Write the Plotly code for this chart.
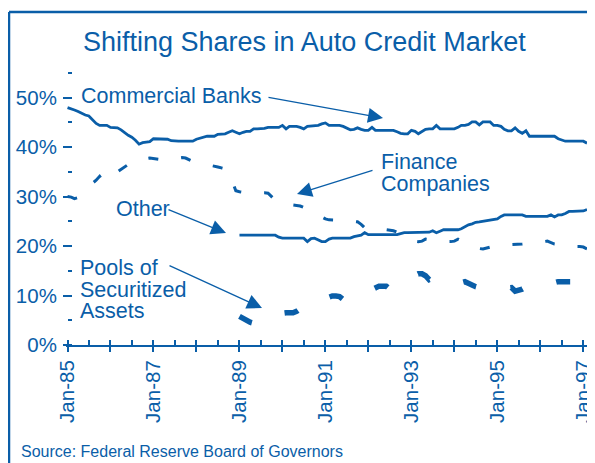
import pandas as pd
import plotly.graph_objects as go

BLUE = "#0A5EA8"
FONT = "Liberation Sans, Arial, Helvetica, sans-serif"

# ---- data (monthly, Jan-1985 onward), shares in percent ----
months_all = pd.date_range("1985-01-01", periods=146, freq="MS")

commercial_banks = [
    48.0, 47.8, 47.5, 47.2, 46.8, 46.5, 46.3, 45.6, 44.8, 44.4, 44.4, 44.4,
    44.0, 43.9, 43.9, 43.5, 42.9, 42.4, 42.0, 41.4, 40.6, 40.9, 41.0, 41.1,
    41.7, 41.7, 41.7, 41.7, 41.6, 41.3, 41.2, 41.2, 41.2, 41.2, 41.2, 41.2,
    41.6, 41.8, 42.1, 42.2, 42.2, 42.2, 42.6, 42.7, 42.7, 43.0, 43.3, 43.0,
    42.7, 43.0, 43.2, 43.2, 43.7, 43.7, 43.7, 43.8, 44.0, 44.0, 44.0, 44.0,
    44.4, 43.7, 44.2, 44.2, 44.2, 44.0, 43.7, 44.2, 44.3, 44.4, 44.4, 44.7,
    44.9, 44.4, 44.4, 44.4, 44.4, 44.2, 43.8, 43.5, 43.6, 43.9, 43.6, 43.4,
    43.4, 44.0, 43.4, 43.4, 43.4, 43.4, 43.4, 43.4, 43.1, 42.8, 42.7, 42.7,
    43.4, 43.2, 42.7, 43.2, 43.6, 43.7, 43.7, 44.4, 43.7, 43.7, 43.7, 43.7,
    43.7, 44.0, 44.4, 44.4, 44.6, 45.1, 45.1, 44.5, 45.1, 45.1, 45.1, 44.4,
    44.4, 44.2, 43.6, 43.3, 43.3, 43.9, 43.2, 42.8, 43.3, 42.2, 42.2, 42.2,
    42.2, 42.2, 42.2, 42.2, 42.2, 41.7, 41.5, 41.2, 41.2, 41.2, 41.2, 41.2,
    41.2, 40.8,
]

finance_companies = [
    30.0, 29.9, 29.6, 29.8, 30.6, 31.4, 32.1, 32.7, 33.3, 34.1, 33.1, 33.5,
    34.0, 34.5, 35.0, 35.4, 35.9, 36.4, 37.0, 37.2, 37.4, 37.6, 37.7, 37.8,
    37.7, 37.5, 37.4, 37.4, 37.5, 37.6, 37.7, 37.8, 37.9, 37.8, 37.4, 37.1,
    36.9, 36.7, 36.5, 36.4, 36.3, 36.2, 36.0, 35.8, 35.6, 35.0, 33.0, 31.2,
    31.0, 30.9, 30.7, 30.7, 30.7, 30.8, 30.8, 30.8, 30.7, 30.0, 29.2, 29.0,
    28.8, 28.6, 28.4, 28.3, 28.2, 28.1, 27.8, 27.4, 27.0, 26.6, 26.2, 25.8,
    25.5, 25.3, 25.3, 25.3, 25.3, 25.2, 25.1, 25.0, 25.0, 24.9, 24.4, 23.7,
    23.6, 23.5, 23.5, 23.4, 23.4, 23.3, 23.3, 23.1, 22.8, 22.4, 22.0, 21.6,
    21.3, 21.0, 20.9, 21.0, 21.4, 21.3, 21.2, 21.1, 21.0, 20.9, 20.9, 20.9,
    21.0, 21.4, 21.0, 20.6, 20.3, 20.0, 19.7, 19.5, 19.4, 19.6, 19.9, 20.0,
    20.1, 20.1, 20.2, 20.2, 20.3, 20.3, 20.4, 20.4, 20.5, 20.6, 20.7, 20.8,
    20.9, 21.0, 21.0, 20.7, 20.4, 20.3, 20.2, 20.1, 20.0, 20.0, 19.9, 19.9,
    19.8, 19.4,
]

# series beginning Jan-1989
other = [
    22.2, 22.2, 22.2, 22.2, 22.2, 22.2, 22.2, 22.2, 22.2, 22.2, 22.2, 21.8,
    21.6, 21.6, 21.6, 21.6, 21.6, 21.6, 21.6, 20.9, 21.5, 21.6, 21.3, 20.9,
    20.9, 21.4, 21.6, 21.6, 21.6, 21.6, 21.6, 21.6, 21.9, 22.1, 22.2, 22.7,
    22.3, 22.3, 22.3, 22.3, 22.3, 22.3, 22.3, 22.3, 22.3, 22.5, 22.7, 22.7,
    22.7, 22.7, 22.7, 22.7, 22.7, 22.8, 23.1, 22.7, 23.0, 23.3, 23.3, 23.3,
    23.3, 23.3, 23.5, 23.9, 24.3, 24.5, 24.8, 24.9, 25.0, 25.1, 25.3, 25.4,
    25.5, 26.0, 26.3, 26.3, 26.3, 26.3, 26.3, 26.3, 26.0, 26.0, 26.0, 26.0,
    26.0, 26.0, 26.0, 26.3, 25.9, 26.3, 26.3, 26.6, 27.0, 27.0, 27.0, 27.0,
    27.1, 27.4,
]

pools = [
    5.8, 5.3, 5.0, 4.6, 4.4, 4.5, 4.7, 5.0, 5.3, 5.6, 5.9, 6.2,
    6.4, 6.5, 6.5, 6.5, 6.8, 7.4, 7.8, 8.1, 8.4, 8.7, 9.0, 9.3,
    9.5, 9.7, 9.9, 9.9, 9.8, 9.2, 9.5, 9.8, 10.1, 10.4, 10.7, 10.9,
    11.1, 11.2, 11.7, 11.9, 11.9, 11.9, 11.3, 11.8, 12.2, 12.6, 13.0, 13.4,
    13.7, 14.1, 14.4, 14.4, 14.0, 13.2, 13.5, 13.5, 13.4, 13.3, 13.2, 13.0,
    12.9, 12.7, 12.6, 12.8, 12.4, 12.1, 11.8, 11.6, 11.5, 11.4, 11.3, 11.3,
    11.3, 11.4, 11.5, 11.6, 11.6, 10.9, 11.0, 11.3, 11.7, 11.9, 12.1, 12.2,
    12.3, 12.4, 12.4, 12.5, 12.6, 12.8, 12.8, 12.8, 12.8, 12.8,
]

year_ticks = pd.date_range("1985-01-01", "1997-01-01", freq="YS")
year_labels = ["Jan-85", "", "Jan-87", "", "Jan-89", "", "Jan-91", "",
               "Jan-93", "", "Jan-95", "", "Jan-97"]
y_ticks = [0, 10, 20, 30, 40, 50]
y_labels = ["0%", "10%", "20%", "30%", "40%", "50%"]

months_cb = months_all[:len(commercial_banks)]
months_fc = months_all[:len(finance_companies)]
months_ot = months_all[48:48 + len(other)]
months_pl = months_all[48:48 + len(pools)]

# ---- geometry: the page body adds an 8px offset, so the figure is 8px smaller ----
OFF = 8
W_FIG, H_FIG = 595 - OFF, 463 - OFF
PLOT_L, PLOT_T, PLOT_B = 66, 68, 345          # in window pixels
L, T = PLOT_L - OFF, PLOT_T - OFF
B = H_FIG - (PLOT_B - OFF)
R = 0
PW = W_FIG - L - R
PH = (PLOT_B - OFF) - T


def px_x(wx):
    return (wx - PLOT_L) / PW


def px_y(wy):
    return (PLOT_B - wy) / PH


fig = go.Figure()
fig.add_trace(go.Scatter(x=months_cb, y=commercial_banks, mode="lines",
                         line=dict(color=BLUE, width=2.8), name="Commercial Banks"))
fig.add_trace(go.Scatter(x=months_fc, y=finance_companies, mode="lines",
                         line=dict(color=BLUE, width=3, dash="10px,23px"),
                         name="Finance Companies"))
fig.add_trace(go.Scatter(x=months_ot, y=other, mode="lines",
                         line=dict(color=BLUE, width=2.8), name="Other"))
fig.add_trace(go.Scatter(x=months_pl, y=pools, mode="lines",
                         line=dict(color=BLUE, width=5.5, dash="14px,34.5px"),
                         name="Pools of Securitized Assets"))
# carrier for the overlay axis that draws the upward half of the x ticks
fig.add_trace(go.Scatter(x=[], y=[], xaxis="x2", showlegend=False, hoverinfo="skip"))

x_range = ["1984-12-19", "1997-04-10"]

fig.update_layout(
    width=W_FIG, height=H_FIG,
    margin=dict(l=L, r=R, t=T, b=B, pad=0),
    paper_bgcolor="white", plot_bgcolor="white",
    showlegend=False,
    font=dict(family=FONT, color=BLUE),
    xaxis=dict(
        type="date", range=x_range, domain=[0, 1],
        tickmode="array", tickvals=year_ticks, ticktext=year_labels,
        tickangle=-90, ticks="outside", ticklen=5, tickwidth=1.5, tickcolor=BLUE,
        tickfont=dict(size=20.5, color=BLUE, family=FONT),
        showline=True, linecolor=BLUE, linewidth=2,
        showgrid=False, zeroline=False, anchor="y",
    ),
    xaxis2=dict(
        type="date", range=x_range, overlaying="x", anchor="y",
        tickmode="linear", tick0="1985-01-01", dtick="M6",
        ticks="inside", ticklen=5, tickwidth=1.5, tickcolor=BLUE,
        showticklabels=False, showline=False, showgrid=False, zeroline=False,
    ),
    yaxis=dict(
        range=[0, 56], anchor="free", position=px_x(72),
        tickmode="array", tickvals=y_ticks, ticktext=y_labels,
        ticks="outside", ticklen=9, tickwidth=2, tickcolor=BLUE,
        ticklabelstandoff=2,
        minor=dict(dtick=5, ticks="outside", ticklen=4.5, tickwidth=1.5, tickcolor=BLUE),
        tickfont=dict(size=20.5, color=BLUE, family=FONT),
        showline=False, showgrid=False, zeroline=False,
    ),
)

# frame lines (top and left), running off the picture
fig.add_shape(type="line", xref="paper", yref="paper",
              x0=px_x(9), y0=px_y(12), x1=px_x(9), y1=px_y(480),
              line=dict(color=BLUE, width=2.5))
fig.add_shape(type="line", xref="paper", yref="paper",
              x0=px_x(9), y0=px_y(12), x1=px_x(610), y1=px_y(12),
              line=dict(color=BLUE, width=2.5))

# title
fig.add_annotation(text="Shifting Shares in Auto Credit Market", xref="paper", yref="paper",
                   x=px_x(304), y=px_y(42), xanchor="center", yanchor="middle",
                   showarrow=False, font=dict(size=27, color=BLUE, family=FONT))
# source
fig.add_annotation(text="Source: Federal Reserve Board of Governors", xref="paper", yref="paper",
                   x=px_x(19), y=px_y(451), xanchor="left", yanchor="middle",
                   showarrow=False, font=dict(size=16, color=BLUE, family=FONT))

labels = [
    ("Commercial Banks", 79, 96),
    ("Finance", 379, 162),
    ("Companies", 379, 184),
    ("Other", 114, 209),
    ("Pools of", 78, 268),
    ("Securitized", 78, 290),
    ("Assets", 78, 311),
]
for txt, lx, ly in labels:
    fig.add_annotation(text=txt, xref="paper", yref="paper", x=px_x(lx), y=px_y(ly),
                       xanchor="left", yanchor="middle", showarrow=False,
                       font=dict(size=21.5, color=BLUE, family=FONT))

arrows = [
    ((267, 97), (383, 118)),
    ((374, 170), (297, 194)),
    ((167, 209), (226, 233)),
    ((168, 265), (262, 308)),
]
for (tx, ty), (hx, hy) in arrows:
    fig.add_annotation(text="", xref="paper", yref="paper", x=px_x(hx), y=px_y(hy),
                       ax=tx - hx, ay=ty - hy, showarrow=True, arrowhead=2,
                       arrowsize=2.3, arrowwidth=1.3, arrowcolor=BLUE, standoff=0)

fig.write_html("out.html")
